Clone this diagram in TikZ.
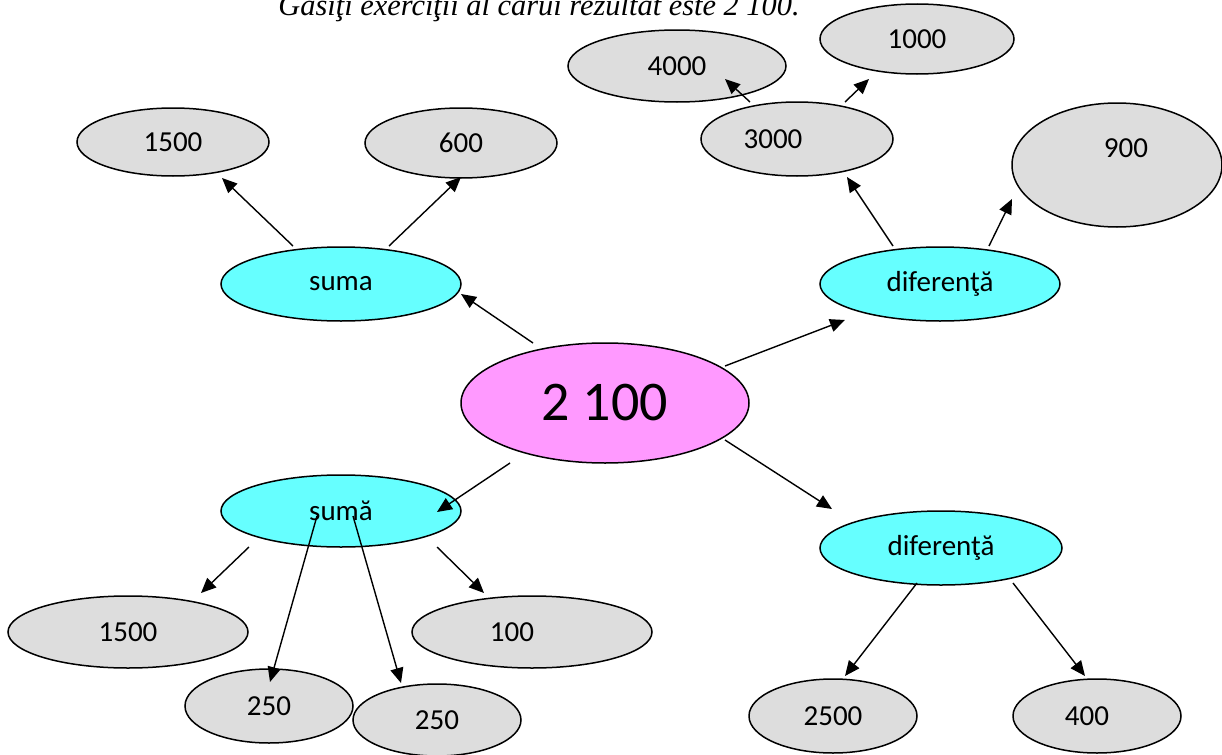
\documentclass[tikz,border=0pt]{standalone}
\usepackage{fontspec}
\setmainfont{Carlito}
\newfontfamily\titlefont{Liberation Serif}
\usetikzlibrary{shapes.geometric,arrows.meta}
\definecolor{greyfill}{HTML}{DDDDDD}
\definecolor{cyanfill}{HTML}{66FFFF}
\definecolor{pinkfill}{HTML}{FF99FF}
\begin{document}
\begin{tikzpicture}[x=0.5pt,y=-0.5pt,
  txt/.style={font=\fontsize{14.5}{17}\selectfont},
  ell/.style={ellipse,draw=black,line width=0.75pt,inner sep=0pt,txt},
  grey/.style={ell,fill=greyfill},
  cyanell/.style={ell,fill=cyanfill},
  arr/.style={line width=0.7pt,-{Triangle[length=7.5pt,width=6.5pt]}}]
\clip (0,0) rectangle (1222,755);
\useasboundingbox (0,0) rectangle (1222,755);
\fill[white] (0,0) rectangle (1222,755);
% title
\node[font=\titlefont\itshape\fontsize{15.2}{18}\selectfont,anchor=base] (title) at (539,16) {Găsiţi exerciţii al cărui rezultat este 2 100.};
% nodes
\node[ell,fill=pinkfill,minimum width=144pt,minimum height=60pt,font=\fontsize{28}{32}\selectfont] (c) at (605,403) {2 100};
\node[cyanell,minimum width=120pt,minimum height=37pt] (suma) at (341,284) {suma};
\node[cyanell,minimum width=120pt,minimum height=37pt] (difA) at (940,284) {diferenţă};
\node[cyanell,minimum width=120pt,minimum height=36pt] (sumb) at (341,511) {sumă};
\node[cyanell,minimum width=121pt,minimum height=37pt] (difB) at (941,548) {diferenţă};
\node[grey,minimum width=96pt,minimum height=34pt] (n1500a) at (173,142) {1500};
\node[grey,minimum width=96pt,minimum height=35pt] (n600) at (461,143) {600};
\node[grey,minimum width=109pt,minimum height=36pt] (n4000) at (677,66) {4000};
\node[grey,minimum width=97pt,minimum height=35pt] (n1000) at (917,39) {1000};
\node[grey,minimum width=96pt,minimum height=37pt,label={[xshift=-12pt,txt]center:3000}] (n3000) at (797,139) {};
\node[grey,minimum width=105pt,minimum height=62pt,label={[xshift=4.5pt,yshift=8.5pt,txt]center:900}] (n900) at (1117,165) {};
\node[grey,minimum width=120pt,minimum height=36pt] (n1500b) at (128,632) {1500};
\node[grey,minimum width=120pt,minimum height=36pt,label={[xshift=-10pt,txt]center:100}] (n100) at (532,632) {};
\node[grey,minimum width=84pt,minimum height=37pt] (n250a) at (269,706) {250};
\node[grey,minimum width=84pt,minimum height=36pt] (n250b) at (437,720) {250};
\node[grey,minimum width=84pt,minimum height=37pt] (n2500) at (833,716) {2500};
\node[grey,minimum width=84pt,minimum height=37pt,label={[xshift=-5pt,txt]center:400}] (n400) at (1097,716) {};
% arrow end points
\coordinate (a1s) at (293,246); \coordinate (a1e) at (222,178);
\coordinate (a2s) at (389,246); \coordinate (a2e) at (461,177);
\coordinate (a3s) at (533,343); \coordinate (a3e) at (461,294);
\coordinate (a4s) at (725,366); \coordinate (a4e) at (845,320);
\coordinate (a5s) at (893,246); \coordinate (a5e) at (847,177);
\coordinate (a6s) at (989,246); \coordinate (a6e) at (1012,199);
\coordinate (a7s) at (750,102); \coordinate (a7e) at (725,79);
\coordinate (a8s) at (845,102); \coordinate (a8e) at (869,79);
\coordinate (a9s) at (510,463); \coordinate (a9e) at (437,512);
\coordinate (a10s) at (725,440); \coordinate (a10e) at (832,509);
\coordinate (a11s) at (249,547); \coordinate (a11e) at (201,593);
\coordinate (a12s) at (317,516); \coordinate (a12e) at (270,682);
\coordinate (a13s) at (353,516); \coordinate (a13e) at (401,683);
\coordinate (a14s) at (437,547); \coordinate (a14e) at (484,593);
\coordinate (a15s) at (917,583); \coordinate (a15e) at (845,676);
\coordinate (a16s) at (1013,583); \coordinate (a16e) at (1085,676);
% connectors
\foreach \i in {1,...,16} {\draw[arr] (a\i s) -- (a\i e);}
\end{tikzpicture}
\end{document}
